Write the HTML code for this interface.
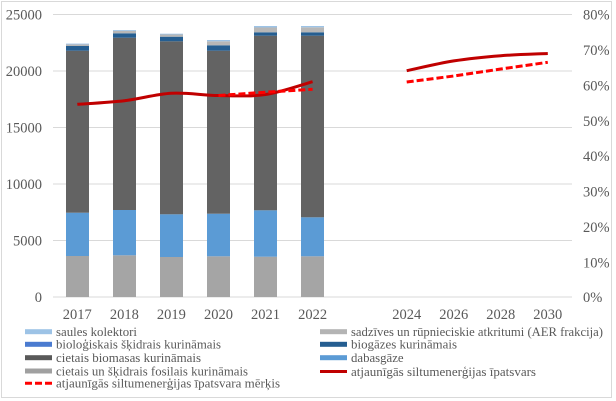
<!DOCTYPE html>
<html><head><meta charset="utf-8"><style>
html,body{margin:0;padding:0;background:#fff;}
svg{display:block;}
text{font-family:"Liberation Serif",serif;fill:#595959;}
</style></head><body>
<svg width="616" height="401" viewBox="0 0 616 401" xmlns="http://www.w3.org/2000/svg">
<rect x="1.5" y="1.5" width="610" height="396" fill="#fff" stroke="#d9d9d9" stroke-width="1"/>
<!-- gridlines -->
<g stroke="#d9d9d9" stroke-width="1">
<line x1="53" y1="14.5" x2="572" y2="14.5"/>
<line x1="53" y1="71" x2="572" y2="71"/>
<line x1="53" y1="127.5" x2="572" y2="127.5"/>
<line x1="53" y1="184" x2="572" y2="184"/>
<line x1="53" y1="240.5" x2="572" y2="240.5"/>
<line x1="53" y1="297" x2="572" y2="297"/>
</g>
<!-- left axis labels -->
<g font-size="14.5" text-anchor="end">
<text x="42" y="19.5">25000</text>
<text x="42" y="76">20000</text>
<text x="42" y="132.5">15000</text>
<text x="42" y="189">10000</text>
<text x="42" y="245.5">5000</text>
<text x="42" y="302">0</text>
</g>
<!-- right axis labels -->
<g font-size="14.5">
<text x="583" y="19.5">80%</text>
<text x="583" y="55">70%</text>
<text x="583" y="90.5">60%</text>
<text x="583" y="125.8">50%</text>
<text x="583" y="161.2">40%</text>
<text x="583" y="196.6">30%</text>
<text x="583" y="232">20%</text>
<text x="583" y="267.4">10%</text>
<text x="583" y="302">0%</text>
</g>
<!-- x labels -->
<g font-size="14.5" text-anchor="middle">
<text x="77.3" y="319">2017</text>
<text x="124.4" y="319">2018</text>
<text x="171.4" y="319">2019</text>
<text x="218.5" y="319">2020</text>
<text x="265.5" y="319">2021</text>
<text x="312.6" y="319">2022</text>
<text x="406.7" y="319">2024</text>
<text x="453.8" y="319">2026</text>
<text x="500.8" y="319">2028</text>
<text x="547.8" y="319">2030</text>
</g>
<!-- bars -->
<g>
<!-- 2017 -->
<rect x="66" y="256" width="23" height="41" fill="#a5a5a5"/>
<rect x="66" y="212.7" width="23" height="43.3" fill="#5b9bd5"/>
<rect x="66" y="50.7" width="23" height="162" fill="#636363"/>
<rect x="66" y="46" width="23" height="4.7" fill="#255e91"/>
<rect x="66" y="44.2" width="23" height="1.8" fill="#b7b7b7"/>
<rect x="66" y="43.6" width="23" height="0.8" fill="#9dc3e6"/>
<!-- 2018 -->
<rect x="113" y="255.3" width="23" height="41.7" fill="#a5a5a5"/>
<rect x="113" y="210" width="23" height="45.3" fill="#5b9bd5"/>
<rect x="113" y="37.7" width="23" height="172.3" fill="#636363"/>
<rect x="113" y="33.3" width="23" height="4.4" fill="#255e91"/>
<rect x="113" y="30.8" width="23" height="2.5" fill="#b7b7b7"/>
<rect x="113" y="30" width="23" height="0.8" fill="#9dc3e6"/>
<!-- 2019 -->
<rect x="160" y="257" width="23" height="40" fill="#a5a5a5"/>
<rect x="160" y="214.3" width="23" height="42.7" fill="#5b9bd5"/>
<rect x="160" y="41.3" width="23" height="173" fill="#636363"/>
<rect x="160" y="36.7" width="23" height="4.6" fill="#255e91"/>
<rect x="160" y="34.5" width="23" height="2.2" fill="#b7b7b7"/>
<rect x="160" y="33.7" width="23" height="0.8" fill="#9dc3e6"/>
<!-- 2020 -->
<rect x="207" y="256.3" width="23" height="40.7" fill="#a5a5a5"/>
<rect x="207" y="213.7" width="23" height="42.6" fill="#5b9bd5"/>
<rect x="207" y="50.7" width="23" height="163" fill="#636363"/>
<rect x="207" y="45.3" width="23" height="5.4" fill="#255e91"/>
<rect x="207" y="41.3" width="23" height="4" fill="#b7b7b7"/>
<rect x="207" y="40" width="23" height="1.3" fill="#9dc3e6"/>
<!-- 2021 -->
<rect x="254" y="256.7" width="23" height="40.3" fill="#a5a5a5"/>
<rect x="254" y="210.3" width="23" height="46.4" fill="#5b9bd5"/>
<rect x="254" y="35.7" width="23" height="174.6" fill="#636363"/>
<rect x="254" y="32.3" width="23" height="3.4" fill="#255e91"/>
<rect x="254" y="27.5" width="23" height="4.8" fill="#b7b7b7"/>
<rect x="254" y="26" width="23" height="1.5" fill="#9dc3e6"/>
<!-- 2022 -->
<rect x="301" y="256.3" width="23" height="40.7" fill="#a5a5a5"/>
<rect x="301" y="217.3" width="23" height="39" fill="#5b9bd5"/>
<rect x="301" y="35.7" width="23" height="181.6" fill="#636363"/>
<rect x="301" y="32.3" width="23" height="3.4" fill="#255e91"/>
<rect x="301" y="27.3" width="23" height="5" fill="#b7b7b7"/>
<rect x="301" y="26" width="23" height="1.3" fill="#9dc3e6"/>
</g>
<!-- lines -->
<g fill="none" stroke-width="3">
<path d="M77.3,104.3 C85.15,103.7 108.7,102.5 124.4,100.7 C140.1,98.9 155.7,94.2 171.4,93.3 C187.1,92.4 202.8,95.3 218.5,95.5 C234.2,95.7 249.8,96.8 265.5,94.5 C281.2,92.2 304.75,83.8 312.6,81.7" stroke="#c00000"/>
<polyline points="218.5,95.5 265.5,92.2 312.6,89.3" stroke="#ff0000" stroke-dasharray="7,3"/>
<path d="M406.7,70.7 C414.5,69.1 438.1,63.4 453.8,60.9 C469.5,58.4 485.1,56.9 500.8,55.7 C516.5,54.5 540,53.9 547.8,53.5" stroke="#c00000"/>
<polyline points="406.7,82 453.8,76 500.8,69 547.8,62.3" stroke="#ff0000" stroke-dasharray="7,3"/>
</g>
<!-- legend -->
<g>
<rect x="25" y="329.2" width="27" height="5" fill="#9dc3e6"/>
<rect x="25" y="341.8" width="27" height="5" fill="#4a7bd0"/>
<rect x="25" y="355.2" width="27" height="5" fill="#595959"/>
<rect x="25" y="368.5" width="27" height="5" fill="#a0a0a0"/>
<line x1="25" y1="383.3" x2="53" y2="383.3" stroke="#ff0000" stroke-width="3" stroke-dasharray="7,3"/>
<rect x="320" y="329.2" width="27" height="5" fill="#b4b4b4"/>
<rect x="320" y="341.8" width="27" height="5" fill="#255e91"/>
<rect x="320" y="355.2" width="27" height="5" fill="#5b9bd5"/>
<line x1="320" y1="371.5" x2="347" y2="371.5" stroke="#c00000" stroke-width="3"/>
</g>
<g font-size="13">
<text x="56" y="336" textLength="81" lengthAdjust="spacingAndGlyphs">saules kolektori</text>
<text x="56" y="348.7" textLength="165" lengthAdjust="spacingAndGlyphs">bioloģiskais šķidrais kurināmais</text>
<text x="56" y="362" textLength="145" lengthAdjust="spacingAndGlyphs">cietais biomasas kurināmais</text>
<text x="56" y="375.3" textLength="192" lengthAdjust="spacingAndGlyphs">cietais un šķidrais fosilais kurināmais</text>
<text x="56" y="387.7" textLength="224" lengthAdjust="spacingAndGlyphs">atjaunīgās siltumenerģijas īpatsvara mērķis</text>
<text x="351" y="336" textLength="252" lengthAdjust="spacingAndGlyphs">sadzīves un rūpnieciskie atkritumi (AER frakcija)</text>
<text x="351" y="348.7" textLength="106" lengthAdjust="spacingAndGlyphs">biogāzes kurināmais</text>
<text x="351" y="362" textLength="52.6" lengthAdjust="spacingAndGlyphs">dabasgāze</text>
<text x="351" y="376" textLength="185" lengthAdjust="spacingAndGlyphs">atjaunīgās siltumenerģijas īpatsvars</text>
</g>
</svg>
</body></html>
